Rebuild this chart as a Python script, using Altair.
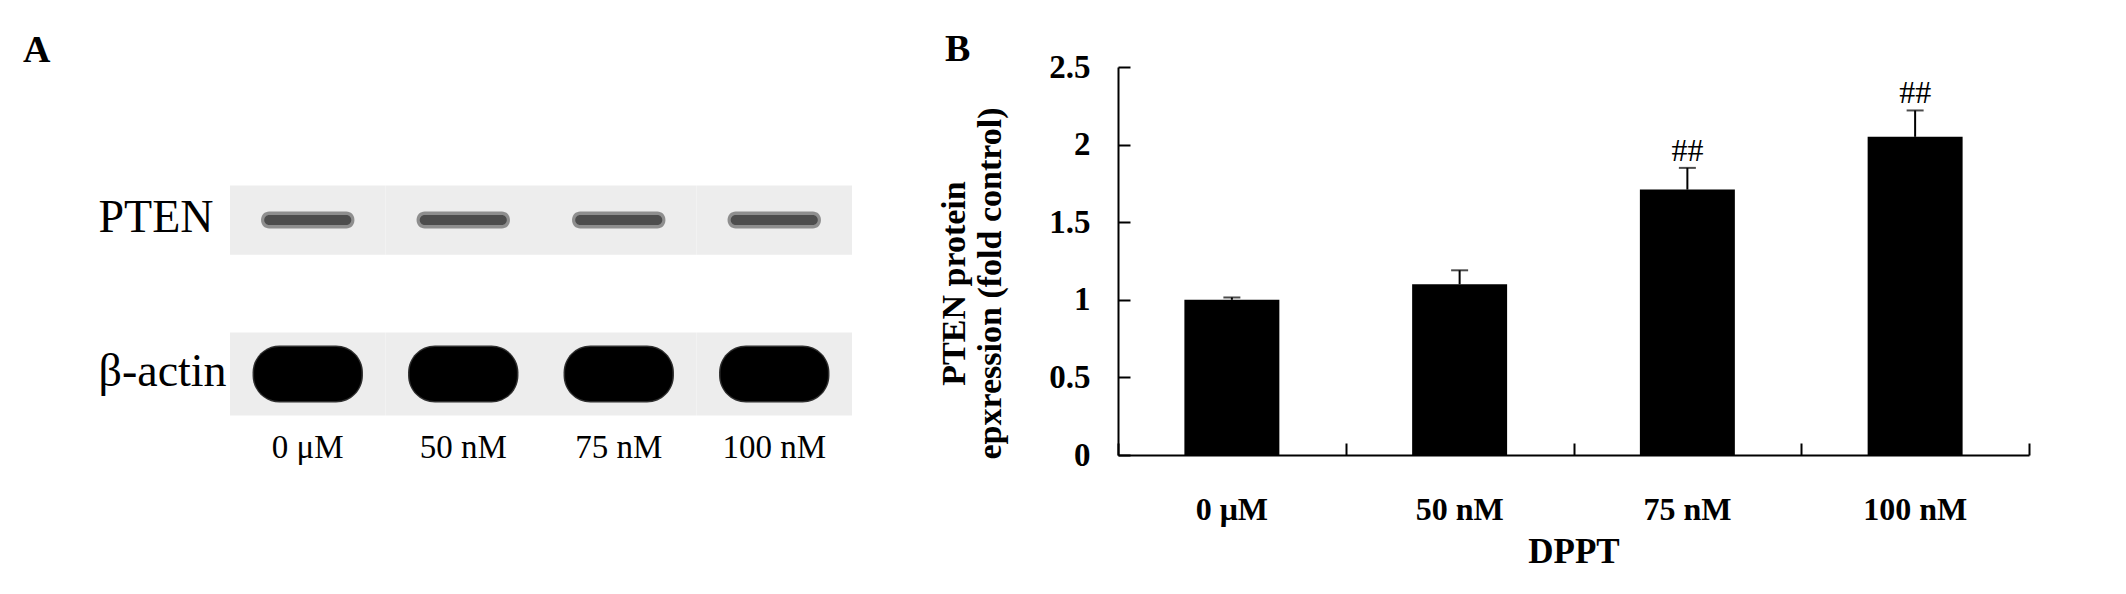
import altair as alt
import pandas as pd

SERIF = "Liberation Serif"

# ---- data ----
lanes = ["0 μM", "50 nM", "75 nM", "100 nM"]
blot_rows = ["PTEN", "β-actin"]
means = [1.00, 1.10, 1.71, 2.05]
sems = [0.015, 0.09, 0.14, 0.17]
sig = ["", "", "##", "##"]
y_ticks = [0, 0.5, 1, 1.5, 2, 2.5]

# ---- panel A: western blot ----
blot = pd.DataFrame([(l, r) for r in blot_rows for l in lanes], columns=["lane", "row"])

xA = alt.X("lane:N", sort=lanes, scale=alt.Scale(paddingInner=0, paddingOuter=0),
           axis=alt.Axis(title=None, domain=False, ticks=False, tickSize=0, labelAngle=0,
                         labelFont=SERIF, labelFontSize=33, labelColor="black",
                         labelPadding=2, labelBaseline="alphabetic"))
yA = alt.Y("row:N", sort=blot_rows, scale=alt.Scale(paddingInner=0, paddingOuter=0.26, align=0.95),
           axis=alt.Axis(title=None, domain=False, ticks=False, tickSize=0,
                         labelFont=SERIF, labelFontSize=46, labelColor="black",
                         labelAlign="left", labelPadding=132, labelBaseline="alphabetic",
                         labelOffset=12))

baseA = alt.Chart(blot).encode(x=xA, y=yA)
is_p = alt.datum.row == "PTEN"
is_a = alt.datum.row == "β-actin"
strip_p = baseA.mark_bar(color="#ededed", width=alt.RelativeBandSize(1),
                         height=alt.RelativeBandSize(0.45)).transform_filter(is_p)
strip_a = baseA.mark_bar(color="#ededed", width=alt.RelativeBandSize(1),
                         height=alt.RelativeBandSize(0.54)).transform_filter(is_a)
halo_p = baseA.mark_bar(color="#8e8e8e", width=alt.RelativeBandSize(0.60),
                        height=alt.RelativeBandSize(0.11), cornerRadius=8).transform_filter(is_p)
band_p = baseA.mark_bar(color="#4d4d4d", width=alt.RelativeBandSize(0.56),
                        height=alt.RelativeBandSize(0.065), cornerRadius=5).transform_filter(is_p)
halo_a = baseA.mark_bar(color="#2e2e2e", width=alt.RelativeBandSize(0.71),
                        height=alt.RelativeBandSize(0.37), cornerRadius=27).transform_filter(is_a)
band_a = baseA.mark_bar(color="#000000", width=alt.RelativeBandSize(0.69),
                        height=alt.RelativeBandSize(0.35), cornerRadius=25).transform_filter(is_a)

chartA = alt.layer(strip_p, strip_a, halo_p, band_p, halo_a, band_a).properties(
    width=622, height=388,
    title=alt.TitleParams("A", anchor="start", frame="group", dx=-207, dy=33, offset=0,
                          baseline="alphabetic", font=SERIF, fontSize=38, fontWeight="bold", color="black"))

# ---- panel B: bar chart ----
dfB = pd.DataFrame({"lane": lanes, "mean": means, "sem": sems, "sig": sig})
dfB["upper"] = dfB["mean"] + dfB["sem"]

xscale = alt.Scale(paddingInner=0, paddingOuter=0)
yscale = alt.Scale(domain=[0, 2.5], nice=False, zero=True)

bars = alt.Chart(dfB).mark_bar(color="black", width=alt.RelativeBandSize(0.417)).encode(
    x=alt.X("lane:N", sort=lanes, scale=xscale,
            axis=alt.Axis(orient="bottom", title="DPPT", domain=False, ticks=False, tickSize=0,
                          labelAngle=0, labelFont=SERIF, labelFontSize=32, labelFontWeight="bold",
                          labelColor="black", labelPadding=64, labelBaseline="alphabetic",
                          titleFont=SERIF, titleFontSize=35, titleFontWeight="bold", titleColor="black",
                          titleBaseline="alphabetic", titleY=107)),
    y=alt.Y("mean:Q", scale=yscale,
            axis=alt.Axis(orient="left", values=y_ticks, format="~g", domain=False, ticks=False,
                          tickSize=0, grid=False, labelFont=SERIF, labelFontSize=33,
                          labelFontWeight="bold", labelColor="black", labelPadding=28,
                          title=["PTEN protein", "epxression (fold control)"],
                          titleFont=SERIF, titleFontSize=34, titleFontWeight="bold", titleColor="black",
                          titleBaseline="alphabetic", titleAngle=270, titleX=-154, titleY=216,
                          titleLineHeight=36)),
)

errs = alt.Chart(dfB).mark_rule(color="black", strokeWidth=2).encode(
    x=alt.X("lane:N", sort=lanes, scale=xscale,
            axis=alt.Axis(orient="top", offset=-388, title=None, labels=False, domain=True,
                          domainColor="black", domainWidth=2, ticks=True, tickSize=12,
                          tickWidth=2, tickColor="black", tickBand="extent")),
    y=alt.Y("mean:Q", scale=yscale,
            axis=alt.Axis(orient="right", offset=-911, title=None, labels=False, domain=True,
                          domainColor="black", domainWidth=2, ticks=True, tickSize=12,
                          tickWidth=2, tickColor="black", values=y_ticks, grid=False)),
    y2="upper:Q",
)

caps = alt.Chart(dfB).mark_tick(color="black", thickness=2, size=17, orient="horizontal").encode(
    x=alt.X("lane:N", sort=lanes, scale=xscale, axis=None),
    y=alt.Y("upper:Q", scale=yscale, axis=None),
)

stars = alt.Chart(dfB).mark_text(font=SERIF, fontSize=32, baseline="alphabetic", dy=-7,
                                 color="black").encode(
    x=alt.X("lane:N", sort=lanes, scale=xscale, axis=None),
    y=alt.Y("upper:Q", scale=yscale, axis=None),
    text="sig:N",
)

chartB = alt.layer(bars, errs, caps, stars).properties(
    width=911, height=388,
    title=alt.TitleParams("B", anchor="start", frame="group", dx=-173, dy=48, offset=0,
                          baseline="alphabetic", font=SERIF, fontSize=38, fontWeight="bold", color="black"))

chart = alt.hconcat(chartA, chartB, spacing=266, bounds="flush").configure_view(
    stroke=None).properties(padding={"left": 15, "top": 23, "right": 5, "bottom": 5})

chart.save("out.html", embed_options={"renderer": "svg", "actions": False})
